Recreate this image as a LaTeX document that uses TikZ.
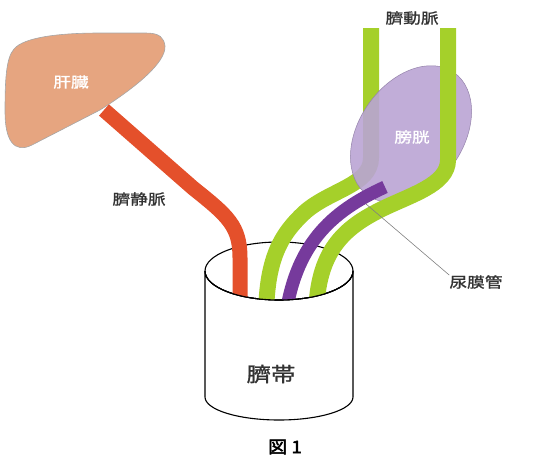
\documentclass[tikz,border=0pt]{standalone}
\usepackage{fontspec}
\usetikzlibrary{shapes.geometric}
\newfontfamily\jp{Noto Sans CJK JP}[FakeStretch=1.22,FakeBold=1.2]
\newfontfamily\jpfig{Noto Sans CJK JP}[FakeStretch=1.12,FakeBold=3]
\begin{document}
\begin{tikzpicture}[x=1pt,y=-1pt,line join=round]
\definecolor{liverc}{RGB}{230,165,128}
\definecolor{veinc}{RGB}{228,80,43}
\definecolor{arteryc}{RGB}{165,208,42}
\definecolor{urachc}{RGB}{118,58,156}
\definecolor{bladderc}{RGB}{186,164,212}
\tikzset{
  lbl/.style={font=\jp\fontsize{14.5}{15}\selectfont,text=black!80,inner sep=0pt},
  inlbl/.style={lbl,text=white},
  vein/.style={draw=veinc,line width=15pt},
  artery/.style={draw=arteryc,line width=16pt},
  urachus/.style={draw=urachc,line width=13pt},
  rim/.style={draw=black,line width=1.1pt}}
\useasboundingbox (0,0) rectangle (540,461);

% liver
\draw[fill=liverc,draw=gray!70,line width=0.6pt]
  (165,46) .. controls (166,62) and (138,86) .. (100,110)
  -- (32,145) .. controls (14,154) and (5,140) .. (5,112)
  .. controls (5,80) and (6,58) .. (14,49)
  .. controls (24,37) and (60,33) .. (100,33)
  -- (146,33) .. controls (160,33) and (164,38) .. (165,46) -- cycle;
\node[inlbl] (liver) at (71,82) {肝臓};

% umbilical cord: body and rim
\coordinate (cordtop) at (279,271);
\coordinate (cordbot) at (279,397);
\draw[rim,fill=white] (205,271) -- (205,397)
  arc[start angle=180,end angle=0,x radius=74,y radius=23]
  -- (353,271) arc[start angle=0,end angle=180,x radius=74,y radius=29];
\draw[rim] (cordtop) ellipse[x radius=74,y radius=29];
\node[lbl,font=\jp\fontsize{20}{22}\selectfont] (cord) at (271,374) {臍帯};

% vessels entering the cord, cut off at the front rim
\begin{scope}
\clip (0,0) -- (540,0) -- (540,271) -- (353,271)
  arc[start angle=0,end angle=180,x radius=74,y radius=29] -- (0,271) -- cycle;
\draw[vein] (104,110) -- (193,188) .. controls (228,216) and (240,226) .. (240,258) -- (240,320);
\draw[artery] (371,28) -- (371,158) .. controls (371,185) and (330,190) .. (305,212)
  .. controls (280,235) and (266,260) .. (266,320);
\end{scope}

% bladder
\node[draw=bladderc!80!black,line width=0.5pt,fill=bladderc,fill opacity=0.9,
  ellipse,minimum width=150pt,minimum height=104pt,rotate=55,inner sep=0pt] (bladder) at (411,134) {};
\node[inlbl] (bladderlbl) at (412,137) {膀胱};

\begin{scope}
\clip (0,0) -- (540,0) -- (540,271) -- (353,271)
  arc[start angle=0,end angle=180,x radius=74,y radius=29] -- (0,271) -- cycle;
\draw[artery] (448,28) -- (448,160) .. controls (448,185) and (410,195) .. (380,210)
  .. controls (340,230) and (316,255) .. (316,320);
\draw[urachus] (385,187) .. controls (330,212) and (295,245) .. (285,320);
\end{scope}
\draw[rim] (353,271) arc[start angle=0,end angle=180,x radius=74,y radius=29];

% labels and leader
\node[lbl] (uv) at (139,199) {臍静脈};
\node[lbl] (ua) at (412,18) {臍動脈};
\node[lbl] (ur) at (476,282) {尿膜管};
\coordinate (urpt) at (366,204);
\draw[gray,line width=0.6pt] (urpt) -- (ur.north west);
\node[font=\jpfig\fontsize{17}{18}\selectfont,inner sep=0pt] (fig) at (285,447) {図 1};
\end{tikzpicture}
\end{document}
